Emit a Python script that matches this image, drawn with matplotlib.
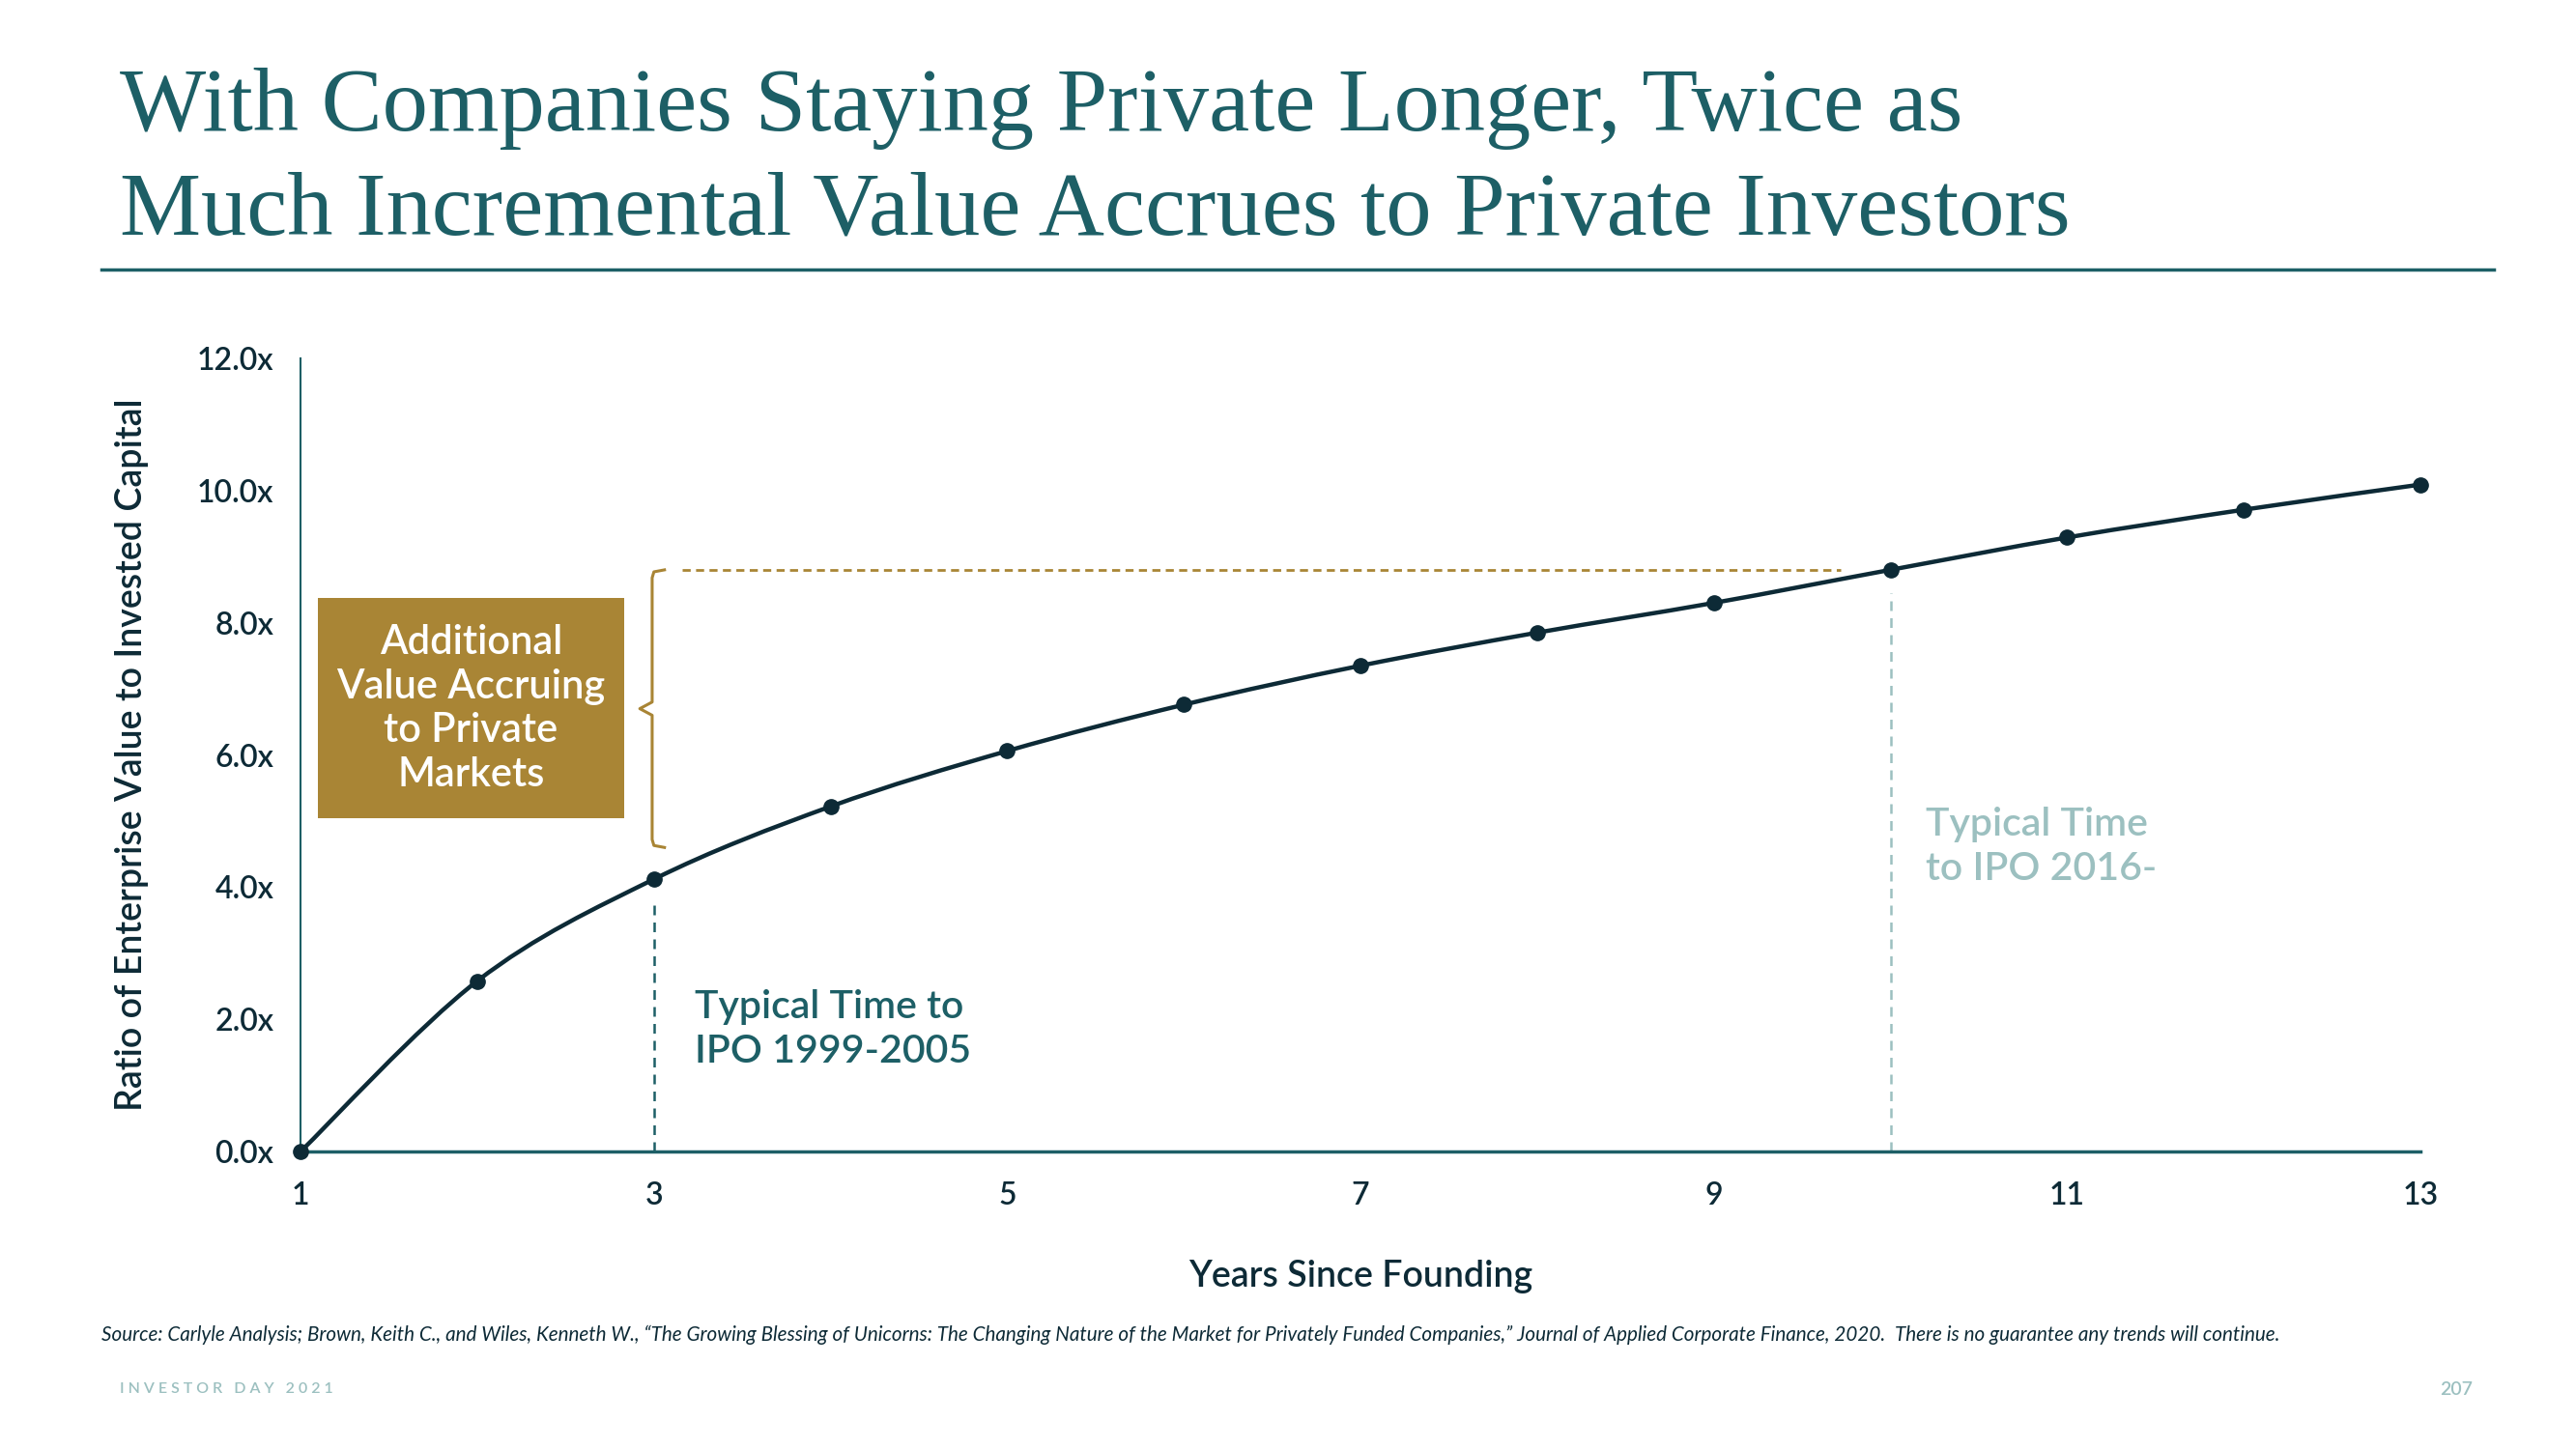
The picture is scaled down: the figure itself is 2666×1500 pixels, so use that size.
import matplotlib; matplotlib.use("Agg")
import matplotlib.pyplot as plt
import numpy as np
from matplotlib.path import Path
from matplotlib.patches import PathPatch, Rectangle

# ── Data ───────────────────────────────────────────────────────────────────
years = [1, 2, 3, 4, 5, 6, 7, 8, 9, 10, 11, 12, 13]
ratio = [0.0, 2.58, 4.12, 5.22, 6.06, 6.76, 7.35, 7.85, 8.30, 8.80, 9.29, 9.71, 10.09]
x_ticks = [1, 3, 5, 7, 9, 11, 13]
x_tick_labels = ["1", "3", "5", "7", "9", "11", "13"]
y_ticks = [0, 2, 4, 6, 8, 10, 12]
y_tick_labels = ["0.0x", "2.0x", "4.0x", "6.0x", "8.0x", "10.0x", "12.0x"]
ipo_old_year = 3
ipo_new_year = 10

TITLE = "With Companies Staying Private Longer, Twice as\nMuch Incremental Value Accrues to Private Investors"
SOURCE = ("Source: Carlyle Analysis; Brown, Keith C., and Wiles, Kenneth W., \u201cThe Growing Blessing of Unicorns: "
          "The Changing Nature of the Market for Privately Funded Companies,\u201d Journal of Applied Corporate "
          "Finance, 2020.  There is no guarantee any trends will continue.")

# ── Style ──────────────────────────────────────────────────────────────────
NAVY = "#0d2a36"
TEAL = "#1d5f66"
LIGHT_TEAL = "#9cc0c0"
GOLD = "#a98535"
SANS = "Lato"
W = "semibold"

plt.rcParams["font.family"] = SANS

fig = plt.figure(figsize=(26.66, 15), dpi=100)
ax = fig.add_axes([0.1167, 0.2053, 0.8229, 0.5474])


def smooth_path(xs, ys):
    """Catmull-Rom style bezier through the points."""
    pts = np.column_stack([xs, ys]).astype(float)
    verts = [pts[0]]
    codes = [Path.MOVETO]
    n = len(pts)
    for i in range(n - 1):
        p0 = pts[i - 1] if i > 0 else pts[i]
        p1, p2 = pts[i], pts[i + 1]
        p3 = pts[i + 2] if i + 2 < n else pts[i + 1]
        c1 = p1 + (p2 - p0) / 6.0
        c2 = p2 - (p3 - p1) / 6.0
        verts += [c1, c2, p2]
        codes += [Path.CURVE4] * 3
    return Path(verts, codes)


ax.add_patch(PathPatch(smooth_path(years, ratio), fill=False, edgecolor=NAVY,
                       linewidth=3.2, zorder=4, clip_on=False))
ax.plot(years, ratio, "o", color=NAVY, markersize=11, zorder=5, clip_on=False)

# typical IPO markers
i_old = years.index(ipo_old_year)
i_new = years.index(ipo_new_year)
ax.plot([ipo_old_year, ipo_old_year], [0, ratio[i_old] - 0.35], color=TEAL,
        linestyle=(0, (4, 3)), linewidth=1.8, zorder=2)
ax.plot([ipo_new_year, ipo_new_year], [0, ratio[i_new] - 0.35], color=LIGHT_TEAL,
        linestyle=(0, (4, 3)), linewidth=1.8, zorder=2)
ax.plot([3.16, 9.72], [ratio[i_new]] * 2, color=GOLD, linestyle=(0, (3, 2)),
        linewidth=2.0, zorder=2)

# bracket
top, bot = ratio[i_new], 4.6
mid = (top + bot) / 2
bx = 2.99
ax.plot([3.06, bx + 0.01, bx, bx, 2.92, bx, bx, bx + 0.01, 3.06],
        [top, top - 0.03, top - 0.12, mid + 0.1, mid, mid - 0.1, bot + 0.12, bot + 0.03, bot],
        color=GOLD, linewidth=2.2, zorder=3, solid_joinstyle="round")

# gold box
ax.add_patch(Rectangle((1.10, 5.04), 1.73, 3.33, facecolor=GOLD, edgecolor="none", zorder=3))
ax.text(1.965, 6.70, "Additional\nValue Accruing\nto Private\nMarkets", color="white",
        fontsize=30, fontweight=W, ha="center", va="center", linespacing=1.25, zorder=4)

ax.text(3.23, 2.45, "Typical Time to\nIPO 1999-2005", color=TEAL, fontsize=29.5,
        fontweight=W, ha="left", va="top", linespacing=1.3)
ax.text(10.2, 5.22, "Typical Time\nto IPO 2016-", color=LIGHT_TEAL, fontsize=29.5,
        fontweight=W, ha="left", va="top", linespacing=1.3)

# axes
ax.set_xlim(1, 13)
ax.set_ylim(0, 12)
ax.set_xticks(x_ticks, x_tick_labels)
ax.set_yticks(y_ticks, y_tick_labels)
ax.tick_params(length=0, labelsize=23, labelcolor=NAVY)
for lab in ax.get_xticklabels() + ax.get_yticklabels():
    lab.set_fontweight(W)
ax.tick_params(axis="x", pad=22)
ax.tick_params(axis="y", pad=20)
for s in ("top", "right"):
    ax.spines[s].set_visible(False)
ax.spines["left"].set_color(TEAL)
ax.spines["left"].set_linewidth(1.5)
ax.spines["bottom"].set_color(TEAL)
ax.spines["bottom"].set_linewidth(2.5)
ax.set_xlabel("Years Since Founding", fontsize=27, fontweight=W, color=NAVY, labelpad=37)
ax.set_ylabel("Ratio of Enterprise Value to Invested Capital", fontsize=27, fontweight=W,
              color=NAVY, labelpad=36)

# title + rule
fig.text(0.0465, 0.838, TITLE, family="Liberation Serif", fontsize=68, color=TEAL,
         ha="left", va="baseline", linespacing=1.35)
fig.add_artist(plt.Line2D([0.0394, 0.968], [0.814, 0.814], color=TEAL, linewidth=2.5))

fig.text(0.0394, 0.0787, SOURCE, fontsize=14.9, style="italic", color=NAVY, ha="left", va="center")
fig.text(0.0465, 0.0413, "I N V E S T O R   D A Y   2 0 2 1", fontsize=11.5, fontweight=W,
         color=LIGHT_TEAL, ha="left", va="center")
fig.text(0.960, 0.0413, "207", fontsize=14, fontweight=W, color=LIGHT_TEAL, ha="right", va="center")

fig.savefig("out.png", dpi=100)
